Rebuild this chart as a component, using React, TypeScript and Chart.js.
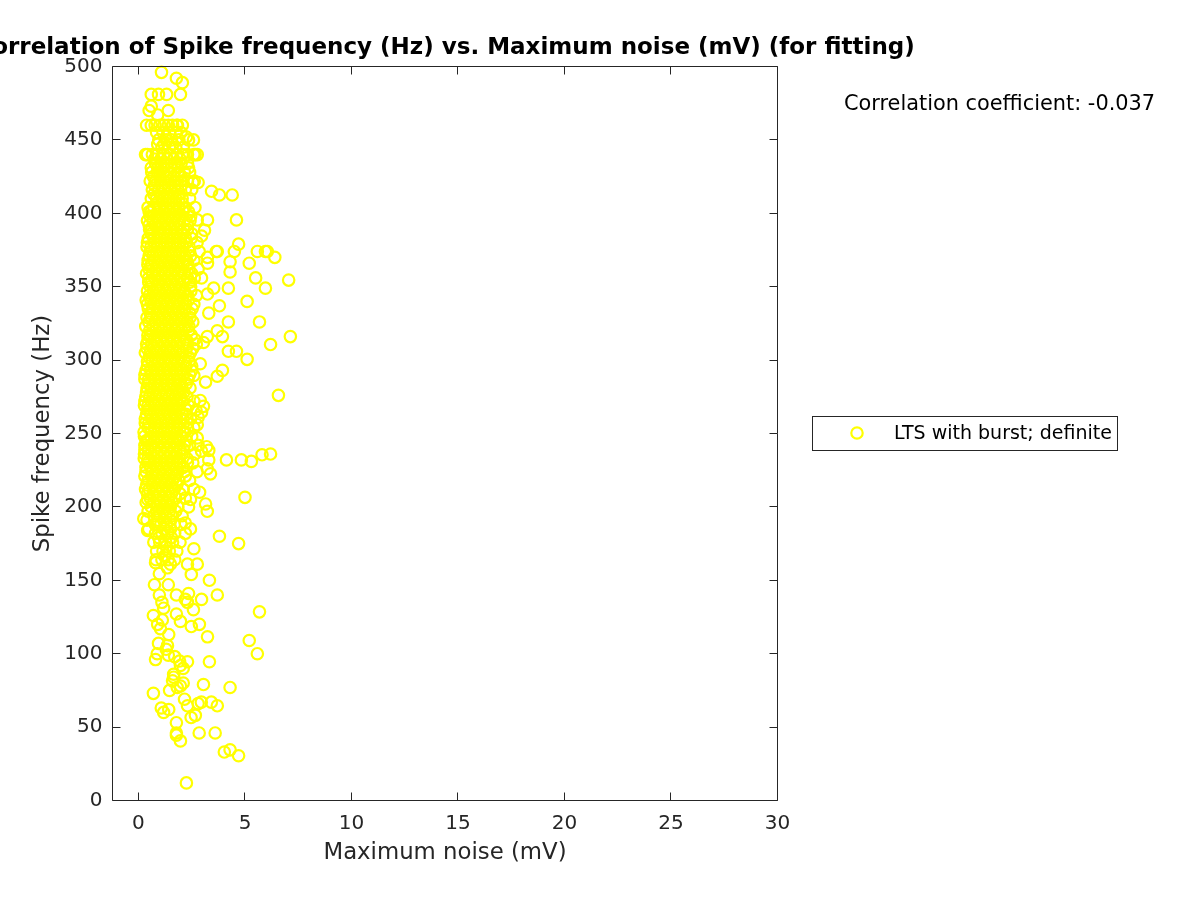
import React, { useEffect, useRef } from "react";
import { Chart, registerables } from "chart.js";

Chart.register(...registerables);

const titleText = "Correlation of Spike frequency (Hz) vs. Maximum noise (mV) (for fitting)";
const xAxisLabel = "Maximum noise (mV)";
const yAxisLabel = "Spike frequency (Hz)";
const seriesLabel = "LTS with burst; definite";
const correlationText = "Correlation coefficient: -0.037";
const xTicks = [0, 5, 10, 15, 20, 25, 30];
const yTicks = [0, 50, 100, 150, 200, 250, 300, 350, 400, 450, 500];

// Scattered points
const sparseNoise = [
  2.25, 4.7, 4.3, 4.03, 1.97, 1.78, 1.78, 2.85, 3.6, 2.47, 2.67, 1.78, 3.7, 3.42, 2.95, 2.8, 2.3, 2.16, 1.18, 1.07, 1.42,
  0.7, 1.46, 1.82, 1.97, 1.6, 2.1, 1.65, 1.65, 3.05, 4.3, 0.8, 0.88, 3.33, 2.3, 1.93, 2.1, 1.97, 1.4, 1.7, 1.36, 0.94,
  1.3, 1.42, 1.03, 0.9, 1.12, 0.7, 1.97, 2.48, 2.86, 3.24, 5.2, 5.58, 5.68, 1.78, 2.58, 2.3, 2.2, 2.35, 2.96, 3.7, 1.78,
  0.98, 1.18, 1.1, 0.75, 1.4, 3.33, 0.98, 2.48, 2.3, 2.76, 1.36, 0.8, 1.5,
  4.7, 3.8, 2.6, 2.44, 2.2, 0.25, 0.43, 3.23, 3.15, 2.87, 5.0, 2.44, 0.33, 0.43, 3.38, 4.13, 4.83, 5.3, 5.8, 6.2, 3.3,
  3.23, 3.3, 3.2, 2.96, 2.76, 2.9, 3.05, 2.96, 2.76, 2.8, 6.57, 3.15, 3.7, 3.94, 2.6, 2.9, 5.1, 4.6, 4.22, 6.2, 7.13,
  5.68, 3.94, 3.7, 3.23, 3.05, 2.72, 4.22, 3.3, 5.1, 3.8,
  1.08, 1.78, 2.06, 1.97, 0.6, 0.94, 1.32, 0.6, 0.5, 1.4, 0.9, 0.38, 2.06, 1.83, 2.25, 2.58, 0.33, 2.76, 2.66, 2.35,
  2.8, 2.55, 3.43, 3.8, 4.4, 4.6, 3.24, 2.76, 3.1, 2.96, 4.7, 4.5, 3.7, 3.65, 5.58, 5.96, 6.05, 6.4, 5.2, 4.3, 4.3, 3.24,
  3.24, 5.5, 7.05, 2.96, 4.22, 5.96, 3.53, 3.24,
  9.8, 10.8, 16.1, 25.55,
];
const sparseSpike = [
  12, 30.5, 34.5, 33, 40.6, 46, 44.5, 46, 46, 56.5, 58, 53, 64.5, 67, 67, 66, 64.5, 69, 60, 63, 62,
  73, 75, 77, 78, 81.5, 80, 86, 84, 79, 77, 96, 100, 94.5, 94.5, 95, 90, 92, 99, 98, 105.5, 107,
  103, 113, 117, 120, 123, 126, 122, 118.5, 120, 111.5, 109, 100, 128.5, 127, 130, 135, 137, 141, 137, 140, 140,
  140, 131, 135, 147, 147, 150, 154.5, 154, 161, 161, 158.5, 162, 161,
  175, 180, 171.5, 185, 189, 192, 184, 197, 202, 210, 206.5, 205, 212, 205, 222.5, 232, 232, 231, 235.5, 236, 232,
  226, 238.5, 241, 238, 247, 272.5, 268.5, 264.5, 256, 261, 276, 285, 289, 293, 289.5, 297.5, 300.5, 306, 306, 310.6, 316,
  326, 316, 320, 316, 312, 311, 326, 332, 340, 337,
  496, 492, 489, 481, 481, 481, 481, 473, 470, 470, 467, 460, 460, 460, 452, 450, 440, 440, 440, 431,
  421, 421, 415, 412.5, 412.5, 395.5, 395.5, 395.5, 388.5, 384.5, 379, 374, 374, 374, 374, 374, 374, 370, 366, 367, 360, 370,
  366, 356, 354.5, 356, 349, 349, 349, 345,
];

// The solid column of overlapping rings, read row by row
const coreSpike = [
  460, 450, 445, 440, 434, 428, 422, 416, 410, 404, 398, 392, 386, 380, 374, 368, 362, 356, 350, 344, 338, 332, 326, 320,
  314, 308, 302, 296, 290, 284, 278, 272, 266, 260, 254, 248, 242, 236, 230, 224, 218, 212, 206, 200, 194, 188, 182, 176, 170, 164,
];
const coreNoise = [
  [0.6, 0.78, 1.0, 1.2, 1.4, 1.6, 1.8],
  [0.95, 1.3, 1.55, 1.9, 2.35],
  [1.1, 1.45, 1.75, 2.1],
  [0.42, 0.65, 0.9, 1.2, 1.5, 1.8, 2.05, 2.3, 2.6],
  [0.8, 1.05, 1.35, 1.7, 2.0, 2.3],
  [0.62, 0.9, 1.2, 1.5, 1.85, 2.15, 2.4],
  [0.55, 0.8, 1.05, 1.4, 1.7, 2.0, 2.3, 2.62],
  [0.65, 0.95, 1.25, 1.55, 1.85, 2.2, 2.5],
  [0.6, 0.85, 1.15, 1.45, 1.75, 2.05, 2.4],
  [0.45, 0.72, 1.0, 1.3, 1.6, 1.9, 2.2, 2.65],
  [0.55, 0.85, 1.15, 1.45, 1.75, 2.05, 2.45],
  [0.5, 0.78, 1.05, 1.35, 1.65, 1.95, 2.3],
  [0.6, 0.9, 1.2, 1.5, 1.8, 2.1, 2.5],
  [0.42, 0.75, 1.05, 1.35, 1.65, 1.95, 2.25, 2.75],
  [0.55, 0.85, 1.15, 1.45, 1.75, 2.05, 2.4, 2.85],
  [0.45, 0.72, 1.02, 1.32, 1.62, 1.92, 2.25, 2.6],
  [0.5, 0.82, 1.12, 1.42, 1.72, 2.02, 2.38, 2.8],
  [0.48, 0.76, 1.05, 1.35, 1.65, 1.95, 2.3, 2.62],
  [0.55, 0.85, 1.15, 1.45, 1.75, 2.05, 2.45],
  [0.5, 0.78, 1.08, 1.38, 1.68, 1.98, 2.3, 2.72],
  [0.42, 0.72, 1.02, 1.32, 1.62, 1.92, 2.22, 2.6],
  [0.55, 0.85, 1.15, 1.45, 1.75, 2.05, 2.4],
  [0.48, 0.78, 1.08, 1.38, 1.68, 1.98, 2.28, 2.55],
  [0.52, 0.82, 1.12, 1.42, 1.72, 2.02, 2.35],
  [0.45, 0.75, 1.05, 1.35, 1.65, 1.95, 2.25, 2.65],
  [0.4, 0.7, 1.0, 1.3, 1.6, 1.9, 2.25, 2.55],
  [0.5, 0.8, 1.1, 1.4, 1.7, 2.0, 2.35],
  [0.42, 0.72, 1.02, 1.32, 1.62, 1.92, 2.22, 2.5],
  [0.3, 0.6, 0.9, 1.2, 1.5, 1.8, 2.1, 2.4],
  [0.45, 0.75, 1.05, 1.35, 1.65, 1.95, 2.25],
  [0.38, 0.68, 0.98, 1.28, 1.58, 1.88, 2.12],
  [0.3, 0.6, 0.9, 1.2, 1.5, 1.78, 2.05, 2.6],
  [0.42, 0.72, 1.02, 1.32, 1.62, 1.9, 2.25, 2.7],
  [0.32, 0.62, 0.92, 1.22, 1.52, 1.8, 2.1, 2.45],
  [0.45, 0.75, 1.05, 1.35, 1.65, 1.95, 2.3, 2.6],
  [0.28, 0.58, 0.88, 1.18, 1.48, 1.75, 2.05, 2.5],
  [0.3, 0.62, 0.92, 1.22, 1.5, 1.8, 2.15, 2.4, 2.8],
  [0.28, 0.58, 0.88, 1.18, 1.48, 1.78, 2.05, 2.65],
  [0.42, 0.72, 1.02, 1.32, 1.62, 1.95, 2.3, 2.55],
  [0.35, 0.65, 0.95, 1.25, 1.55, 1.85, 2.15, 2.75],
  [0.45, 0.72, 1.02, 1.32, 1.6, 1.9, 2.4],
  [0.5, 0.8, 1.1, 1.4, 1.68, 2.1, 2.6],
  [0.55, 0.85, 1.15, 1.42, 1.75, 2.2],
  [0.6, 0.9, 1.2, 1.5, 1.85, 2.35],
  [0.72, 1.0, 1.3, 1.6, 2.05],
  [0.78, 1.05, 1.32, 1.68, 2.0],
  [0.8, 1.1, 1.38, 1.7, 2.2],
  [0.72, 1.0, 1.28, 1.6, 1.95],
  [0.85, 1.15, 1.45, 1.8],
  [0.82, 1.1, 1.4, 1.7],
];

// In-between rows of the same solid column
const fillSpike = [
  455, 447, 437, 431, 425, 419, 413, 407, 401, 395, 389, 383, 377, 371, 365, 359, 353, 347, 341, 335, 329, 323, 317, 311,
  305, 299, 293, 287, 281, 275, 269, 263, 257, 251, 245, 239, 233, 227, 221, 215, 209, 203, 197, 191, 185, 179, 173, 167,
];
const fillNoise = [
  [0.85, 1.15, 1.45, 1.75, 2.0],
  [0.9, 1.2, 1.6],
  [0.75, 1.05, 1.35, 1.65, 1.95],
  [0.6, 0.9, 1.2, 1.55, 1.85],
  [0.7, 1.0, 1.3, 1.65, 2.0],
  [0.75, 1.1, 1.4, 1.7, 2.0],
  [0.72, 1.02, 1.32, 1.62, 1.92],
  [0.85, 1.15, 1.45, 1.75, 2.05],
  [0.6, 0.9, 1.2, 1.5, 1.8, 2.1],
  [0.68, 0.98, 1.28, 1.58, 1.88, 2.15],
  [0.62, 0.92, 1.22, 1.52, 1.82, 2.12],
  [0.72, 1.02, 1.32, 1.62, 1.92, 2.2],
  [0.58, 0.88, 1.18, 1.48, 1.78, 2.08],
  [0.68, 0.98, 1.28, 1.58, 1.88, 2.18],
  [0.6, 0.9, 1.2, 1.5, 1.8, 2.1],
  [0.66, 0.96, 1.26, 1.56, 1.86, 2.16],
  [0.62, 0.92, 1.22, 1.52, 1.82, 2.12],
  [0.7, 1.0, 1.3, 1.6, 1.9, 2.15],
  [0.58, 0.88, 1.18, 1.48, 1.78, 2.08],
  [0.66, 0.96, 1.26, 1.56, 1.86, 2.16],
  [0.6, 0.9, 1.2, 1.5, 1.8, 2.1],
  [0.68, 0.98, 1.28, 1.58, 1.88, 2.18],
  [0.56, 0.86, 1.16, 1.46, 1.76, 2.06],
  [0.62, 0.92, 1.22, 1.52, 1.82, 2.12],
  [0.55, 0.85, 1.15, 1.45, 1.75, 2.05],
  [0.65, 0.95, 1.25, 1.55, 1.85, 2.15],
  [0.58, 0.88, 1.18, 1.48, 1.78, 2.08],
  [0.48, 0.78, 1.08, 1.38, 1.68, 1.98],
  [0.6, 0.9, 1.2, 1.5, 1.8, 2.05],
  [0.52, 0.82, 1.12, 1.42, 1.72, 1.98],
  [0.45, 0.75, 1.05, 1.35, 1.65, 1.92],
  [0.58, 0.88, 1.18, 1.48, 1.76, 2.05],
  [0.48, 0.78, 1.08, 1.38, 1.68, 1.95],
  [0.6, 0.9, 1.2, 1.5, 1.8, 2.1],
  [0.43, 0.73, 1.03, 1.33, 1.63, 1.9],
  [0.46, 0.76, 1.06, 1.36, 1.65, 1.95],
  [0.45, 0.75, 1.05, 1.35, 1.65, 1.92],
  [0.58, 0.88, 1.18, 1.48, 1.78, 2.1],
  [0.62, 0.88, 1.18, 1.46, 1.75],
  [0.65, 0.95, 1.25, 1.52, 1.8],
  [0.7, 1.0, 1.28, 1.55, 1.95],
  [0.72, 1.02, 1.3, 1.58],
  [0.85, 1.15, 1.45, 1.75],
  [0.9, 1.18, 1.48],
  [1.2, 1.5],
  [0.95, 1.55],
  [1.3],
  [1.25],
];

// Rings along the left side of the column
const leftEdgeNoise = [
  0.5, 0.42, 0.52, 0.46, 0.4, 0.5, 0.44, 0.38, 0.48, 0.42, 0.36, 0.46, 0.4, 0.34, 0.44, 0.38, 0.32, 0.42, 0.36, 0.3,
  0.4, 0.34, 0.28, 0.38, 0.32, 0.26, 0.36, 0.3, 0.27, 0.35, 0.3, 0.38, 0.42, 0.36, 0.45, 0.4, 0.48,
];
const leftEdgeSpike = [
  401, 395, 389, 383, 377, 371, 365, 359, 353, 347, 341, 335, 329, 323, 317, 311, 305, 299, 293, 287,
  281, 275, 269, 263, 257, 251, 245, 239, 233, 227, 221, 215, 209, 203, 197, 191, 185,
];

// Rings along the right side of the column
const rightEdgeNoise = [
  2.35, 2.42, 2.3, 2.48, 2.38, 2.45, 2.32, 2.5, 2.4, 2.46, 2.34, 2.52, 2.42, 2.36, 2.48, 2.3, 2.44, 2.38, 2.5, 2.32,
  2.42, 2.28, 2.35, 2.22, 2.3, 2.18, 2.25, 2.12, 2.28, 2.1, 2.2,
];
const rightEdgeSpike = [
  401, 395, 389, 383, 377, 371, 365, 359, 353, 347, 341, 335, 329, 323, 317, 311, 305, 299, 293, 287,
  281, 275, 269, 263, 257, 251, 245, 239, 233, 227, 221,
];

const points = [
  ...coreSpike.flatMap((y, i) => coreNoise[i].map((x) => ({ x, y }))),
  ...fillSpike.flatMap((y, i) => fillNoise[i].map((x) => ({ x, y }))),
  ...leftEdgeNoise.map((x, i) => ({ x, y: leftEdgeSpike[i] })),
  ...rightEdgeNoise.map((x, i) => ({ x, y: rightEdgeSpike[i] })),
  ...sparseNoise.map((x, i) => ({ x, y: sparseSpike[i] })),
];

const ink = "#262626";
const yellow = "#ffff00";

const framePlugin = {
  id: "frame",
  beforeDraw(chart: any) {
    const block = chart.titleBlock;
    const center = (chart.chartArea.left + chart.chartArea.right) / 2;
    block.left = center - 600;
    block.right = center + 600;
  },
  afterDraw(chart: any) {
    const { ctx, chartArea: a, scales } = chart;
    ctx.save();
    ctx.strokeStyle = ink;
    ctx.lineWidth = 1;
    ctx.beginPath();
    ctx.rect(a.left, a.top, a.right - a.left, a.bottom - a.top);
    for (const t of scales.x.ticks) {
      const px = Math.floor(scales.x.getPixelForValue(t.value)) + 0.5;
      ctx.moveTo(px, a.bottom);
      ctx.lineTo(px, a.bottom - 8);
      ctx.moveTo(px, a.top);
      ctx.lineTo(px, a.top + 8);
    }
    for (const t of scales.y.ticks) {
      const py = Math.floor(scales.y.getPixelForValue(t.value)) + 0.5;
      ctx.moveTo(a.left, py);
      ctx.lineTo(a.left + 8, py);
      ctx.moveTo(a.right, py);
      ctx.lineTo(a.right - 8, py);
    }
    ctx.stroke();

    ctx.fillStyle = "#000000";
    ctx.font = '20.85px "DejaVu Sans"';
    ctx.textBaseline = "middle";
    ctx.textAlign = "left";
    ctx.fillText(correlationText, 844, 104.5);

    ctx.fillStyle = "#ffffff";
    ctx.fillRect(812.5, 416.5, 305, 34);
    ctx.strokeStyle = ink;
    ctx.strokeRect(812.5, 416.5, 305, 34);
    ctx.strokeStyle = yellow;
    ctx.lineWidth = 2.2;
    ctx.beginPath();
    ctx.arc(857, 433, 5.7, 0, Math.PI * 2);
    ctx.stroke();
    ctx.fillStyle = "#000000";
    ctx.font = '19px "DejaVu Sans"';
    ctx.fillText(chart.data.datasets[0].label, 894, 434);
    ctx.restore();
  },
};

export default function App() {
  const ref = useRef<HTMLCanvasElement>(null);
  useEffect(() => {
    document.body.style.margin = "0";
    const chart = new Chart(ref.current as HTMLCanvasElement, {
      type: "scatter",
      data: {
        datasets: [
          {
            label: seriesLabel,
            data: points,
            pointStyle: "circle",
            pointRadius: 5.7,
            pointBorderWidth: 2.2,
            pointBorderColor: yellow,
            pointBackgroundColor: "rgba(0,0,0,0)",
            showLine: false,
            clip: false,
          },
        ],
      },
      options: {
        animation: false,
        responsive: false,
        layout: { padding: { right: 422.5, left: 0, top: 0, bottom: 0 } },
        plugins: {
          legend: { display: false },
          tooltip: { enabled: false },
          title: {
            display: true,
            text: titleText,
            fullSize: false,
            color: "#000000",
            font: { family: "DejaVu Sans", size: 23, weight: "bold", lineHeight: 1.2 },
            padding: { top: 34, bottom: 4.9 },
          },
        },
        scales: {
          x: {
            type: "linear",
            min: -1.22,
            max: 30,
            grid: { display: false },
            border: { display: false },
            afterBuildTicks: (s: any) => {
              s.ticks = xTicks.map((value) => ({ value }));
            },
            afterFit: (s: any) => {
              s.height = 99.5;
            },
            ticks: {
              color: ink,
              font: { family: "DejaVu Sans", size: 20 },
              padding: 3,
              maxRotation: 0,
              autoSkip: false,
            },
            title: {
              display: true,
              text: xAxisLabel,
              color: ink,
              font: { family: "DejaVu Sans", size: 22.8 },
              padding: { top: 0, bottom: 33 },
            },
          },
          y: {
            type: "linear",
            min: 0,
            max: 500,
            grid: { display: false },
            border: { display: false },
            afterBuildTicks: (s: any) => {
              s.ticks = yTicks.map((value) => ({ value }));
            },
            afterFit: (s: any) => {
              s.width = 112.5;
            },
            ticks: {
              color: ink,
              font: { family: "DejaVu Sans", size: 20 },
              padding: 2,
              autoSkip: false,
            },
            title: {
              display: true,
              text: yAxisLabel,
              color: ink,
              font: { family: "DejaVu Sans", size: 22.8 },
              padding: { top: 29, bottom: 0 },
            },
          },
        },
      },
      plugins: [framePlugin],
    } as any);
    return () => chart.destroy();
  }, []);
  return <canvas ref={ref} width={1200} height={900} style={{ display: "block" }} />;
}
